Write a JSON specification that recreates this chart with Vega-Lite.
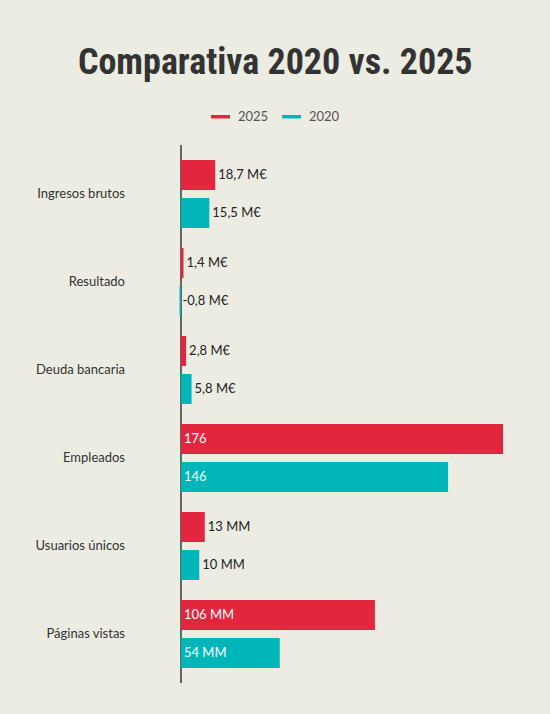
{
  "$schema": "https://vega.github.io/schema/vega-lite/v6.json",
  "autosize": {"type": "none"},
  "padding": {"left": 179.5, "top": 145, "right": 46.5, "bottom": 31},
  "width": 323.5,
  "height": 538,
  "background": "#EDECE2",
  "title": {
    "text": "Comparativa 2020 vs. 2025",
    "font": "Roboto Condensed, Noto Sans Condensed, Open Sans Condensed, DejaVu Sans Condensed",
    "fontWeight": "bold",
    "fontSize": 36,
    "color": "#333333",
    "anchor": "middle",
    "frame": "group",
    "baseline": "alphabetic",
    "offset": 70,
    "dy": 75,
    "dx": -66
  },
  "config": {
    "view": {"stroke": null},
    "font": "Lato"
  },
  "data": {
    "values": [
      {"categoria": "Ingresos brutos", "periodo": "2025", "valor": 18.7, "etiqueta": "18,7 M€"},
      {"categoria": "Ingresos brutos", "periodo": "2020", "valor": 15.5, "etiqueta": "15,5 M€"},
      {"categoria": "Resultado", "periodo": "2025", "valor": 1.4, "etiqueta": "1,4 M€"},
      {"categoria": "Resultado", "periodo": "2020", "valor": -0.8, "etiqueta": "-0,8 M€"},
      {"categoria": "Deuda bancaria", "periodo": "2025", "valor": 2.8, "etiqueta": "2,8 M€"},
      {"categoria": "Deuda bancaria", "periodo": "2020", "valor": 5.8, "etiqueta": "5,8 M€"},
      {"categoria": "Empleados", "periodo": "2025", "valor": 176, "etiqueta": "176"},
      {"categoria": "Empleados", "periodo": "2020", "valor": 146, "etiqueta": "146"},
      {"categoria": "Usuarios únicos", "periodo": "2025", "valor": 13, "etiqueta": "13 MM"},
      {"categoria": "Usuarios únicos", "periodo": "2020", "valor": 10, "etiqueta": "10 MM"},
      {"categoria": "Páginas vistas", "periodo": "2025", "valor": 106, "etiqueta": "106 MM"},
      {"categoria": "Páginas vistas", "periodo": "2020", "valor": 54, "etiqueta": "54 MM"}
    ]
  },
  "layer": [
    {
      "mark": {"type": "rule", "color": "#666666", "strokeWidth": 1},
      "encoding": {
        "x": {
          "datum": 0,
          "type": "quantitative",
          "scale": {"domain": [-0.8, 176], "nice": false, "zero": false},
          "axis": null
        }
      }
    },
    {
      "mark": {"type": "bar"},
      "encoding": {
        "y": {
          "field": "categoria",
          "type": "nominal",
          "sort": null,
          "scale": {"paddingInner": 0.2273, "paddingOuter": 0.1705},
          "axis": {
            "title": null,
            "domain": false,
            "ticks": false,
            "labelPadding": 55,
            "labelFontSize": 13,
            "labelColor": "#333333",
            "labelFont": "Lato"
          }
        },
        "yOffset": {
          "field": "periodo",
          "type": "nominal",
          "sort": ["2025", "2020"],
          "scale": {"paddingInner": 0.2105, "paddingOuter": 0}
        },
        "x": {"field": "valor", "type": "quantitative"},
        "color": {
          "field": "periodo",
          "type": "nominal",
          "scale": {"domain": ["2025", "2020"], "range": ["#E2263D", "#00B6B9"]},
          "legend": {
            "title": null,
            "orient": "none",
            "direction": "horizontal",
            "legendX": 29.5,
            "legendY": -40,
            "symbolType": "stroke",
            "symbolSize": 361,
            "symbolStrokeWidth": 3.5,
            "labelFontSize": 13,
            "labelColor": "#555555",
            "labelFont": "Lato",
            "labelOffset": 6,
            "columnPadding": 6,
            "encode": {
              "symbols": {
                "update": {
                  "stroke": {"scale": "color", "field": "value"},
                  "strokeWidth": {"value": 3.5}
                }
              }
            }
          }
        }
      }
    },
    {
      "transform": [{"filter": "datum.valor < 50"}],
      "mark": {"type": "text", "align": "left", "baseline": "middle", "dx": 3, "fontSize": 13, "color": "#222222"},
      "encoding": {
        "y": {"field": "categoria", "type": "nominal", "sort": null},
        "yOffset": {"field": "periodo", "type": "nominal", "sort": ["2025", "2020"]},
        "x": {"field": "valor", "type": "quantitative"},
        "text": {"field": "etiqueta"}
      }
    },
    {
      "transform": [{"filter": "datum.valor >= 50"}],
      "mark": {"type": "text", "align": "left", "baseline": "middle", "dx": 3, "fontSize": 13, "color": "#FFFFFF"},
      "encoding": {
        "y": {"field": "categoria", "type": "nominal", "sort": null},
        "yOffset": {"field": "periodo", "type": "nominal", "sort": ["2025", "2020"]},
        "x": {"datum": 0, "type": "quantitative"},
        "text": {"field": "etiqueta"}
      }
    }
  ]
}
